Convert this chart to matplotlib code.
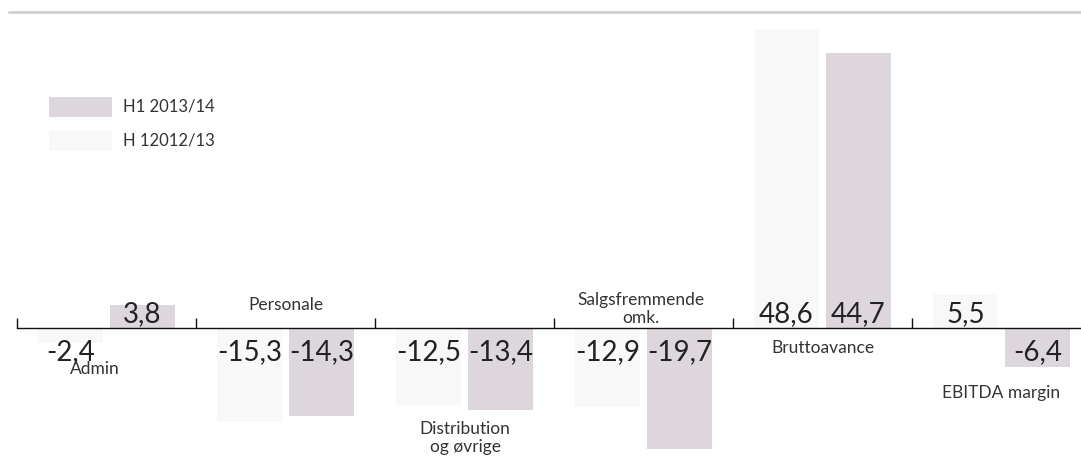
import matplotlib
matplotlib.use("Agg")
import matplotlib.pyplot as plt
from matplotlib.patches import Rectangle
from matplotlib.lines import Line2D
import numpy as np

# ---- data ----
categories = ["Admin", "Personale", "Distribution\nog øvrige", "Salgsfremmende\nomk.",
              "Bruttoavance", "EBITDA margin"]
series_names = ["H1 2013/14", "H 12012/13"]
h1_2013_14 = [3.8, -14.3, -13.4, -19.7, 44.7, -6.4]
h1_2012_13 = [-2.4, -15.3, -12.5, -12.9, 48.6, 5.5]

# ---- style ----
col_new = "#ddd6dc"
col_old = "#f8f8f8"
txt_col = "#222222"
lab_col = "#333333"
font = ["Lato", "DejaVu Sans"]
plt.rcParams["font.family"] = font

W, H = 1081, 470
fig = plt.figure(figsize=(W / 100, H / 100), dpi=100)

# axes geometry in pixels
x0_px, cat_px = 17, 179
zero_px, ppu = 328, 6.15
ax = fig.add_axes([x0_px / W, 0, 6 * cat_px / W, 1])
ax.set_xlim(-0.5, 5.5)
ax.set_ylim(-(H - zero_px) / ppu, zero_px / ppu)

def px2data(px, py):
    return (px - x0_px) / cat_px - 0.5, (zero_px - py) / ppu

x = np.arange(len(categories))
bw = 65 / cat_px
off = 36 / cat_px
b_old = ax.bar(x - off, h1_2012_13, width=bw, color=col_old, zorder=2)
b_new = ax.bar(x + off, h1_2013_14, width=bw, color=col_new, zorder=2)

for bars, vals in ((b_old, h1_2012_13), (b_new, h1_2013_14)):
    for r, v in zip(bars, vals):
        cx = r.get_x() + r.get_width() / 2
        dy = 6 if v >= 0 else -32
        ax.annotate(f"{v:.1f}".replace(".", ","), (cx, 0), xytext=(0, dy),
                    textcoords="offset pixels", ha="center", va="baseline",
                    fontsize=20, color=txt_col, zorder=4)

# axis / zero line with upward ticks at category boundaries
for s in ["top", "right", "left"]:
    ax.spines[s].set_visible(False)
ax.spines["bottom"].set_position(("data", 0))
ax.spines["bottom"].set_color("#111111")
ax.spines["bottom"].set_linewidth(1.0)
ax.spines["bottom"].set_zorder(3)
ax.set_xticks(np.arange(len(categories)) - 0.5)
ax.set_xticklabels([])
ax.tick_params(axis="x", direction="in", length=7.2, width=1.0, color="#111111")
ax.set_yticks([])
ax.patch.set_alpha(0)

# category labels (pixel anchors)
label_px = [(94.5, 369), (285.5, 305), (465, 438), (641, 309), (822.5, 348), (1001.5, 393)]
for lab, (px, py) in zip(categories, label_px):
    dx, dy = px2data(px, py)
    ax.text(dx, dy, lab, ha="center", va="center", fontsize=12.5, color=lab_col,
            linespacing=1.15, zorder=5)

# top grey rule
fig.add_artist(Line2D([9 / W, 1], [1 - 11.5 / H, 1 - 11.5 / H], color="#cccccc", lw=1.8))

# legend
for i, (name, col) in enumerate(zip(series_names, [col_new, col_old])):
    top = 97 + i * 34
    fig.add_artist(Rectangle((49 / W, 1 - (top + 20) / H), 63 / W, 20 / H,
                             transform=fig.transFigure, color=col, lw=0))
    fig.text(123 / W, 1 - (top + 10) / H, name, ha="left", va="center",
             fontsize=12, color=lab_col)

fig.savefig("out.png", dpi=100)
